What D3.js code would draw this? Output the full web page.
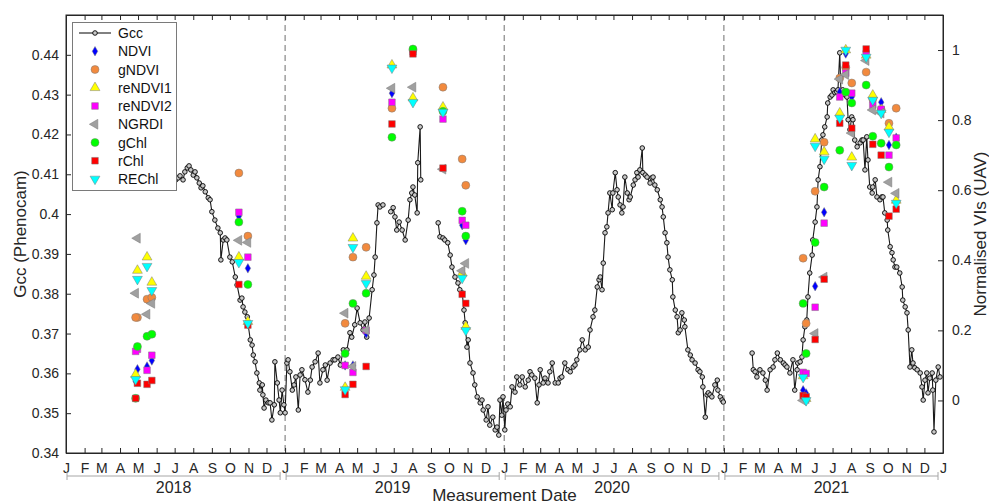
<!DOCTYPE html>
<html><head><meta charset="utf-8">
<script src="https://cdn.jsdelivr.net/npm/d3@7"></script>
<style>body{margin:0;background:#fff}text{font-family:Arial,"Liberation Sans",sans-serif}</style>
</head><body><svg id="chart" width="989" height="504"></svg>
<script>
// Gcc (Phenocam): [days since 2018-01-01, value]; null = gap in record
var gcc = [
[183,.4086],[187,.4091],[190,.4096],[195,.4086],[198,.4106],[202,.4116],[205,.4121],[208,.4111],[212,.4098],[215,.4106],[218,.4091],[222,.4078],[225,.4066],[228,.4071],[232,.4056],[237,.4041],[240,.4036],[243,.4006],[248,.3985],[253,.3965],[257,.3953],[258,.3885],[262,.3935],[265,.3940],[268,.3935],[273,.3892],[277,.3880],[282,.3842],[285,.3822],[290,.3784],[293,.3789],[295,.3767],[298,.3754],[302,.3742],[303,.3727],[307,.3684],[310,.3671],[312,.3646],[315,.3629],[318,.3601],[322,.3576],[323,.3558],[327,.3571],[328,.3546],[330,.3513],[333,.3533],[337,.3526],[340,.3526],[343,.3483],[347,.3521],[348,.3629],[352,.3576],[355,.3533],[357,.3501],[360,.3558],[363,.3521],[365,.3501],
[368,.3626],[370,.3634],[373,.3604],[377,.3558],[380,.3571],[383,.3591],[387,.3508],[390,.3596],[393,.3609],[398,.3584],[403,.3553],[407,.3583],[410,.3616],[415,.3629],[420,.3651],[423,.3576],[428,.3609],[432,.3621],[435,.3583],[440,.3626],[445,.3634],[448,.3634],[453,.3641],[457,.3621],[462,.3659],[468,.3659],[473,.3702],[476,.3691],[481,.3722],[485,.3764],[490,.3727],[495,.3709],[498,.3729],[501,.3691],[505,.3739],[510,.3810],[513,.3847],[515,.3892],[518,.3978],[520,.4023],[523,.4018],[528,.4023],null,
[541,.4006],[545,.4016],[548,.3993],[551,.3960],[555,.3980],[560,.3960],[565,.3935],[570,.3985],[573,.4036],[576,.4053],[578,.4068],[581,.4048],[585,.4003],[586,.4129],[590,.4219],[591,.4086],null,
[620,.3978],[623,.3943],[628,.3940],[631,.3935],[636,.3928],[640,.3897],[643,.3867],[648,.3842],[653,.3827],[656,.3810],[660,.3802],[663,.3759],[665,.3727],[668,.3666],[670,.3684],[673,.3626],[678,.3601],[681,.3571],[685,.3541],[690,.3526],[693,.3533],[695,.3508],[700,.3483],[703,.3516],[706,.3470],[711,.3490],[715,.3458],[718,.3465],[721,.3445],[723,.3533],[726,.3495],[728,.3541],
[731,.3458],[733,.3508],[736,.3523],[740,.3516],[743,.3566],[748,.3553],[751,.3591],[756,.3571],[760,.3591],[765,.3566],[770,.3583],[773,.3604],[776,.3596],[781,.3588],[785,.3526],[788,.3571],[790,.3609],[795,.3576],[798,.3588],[803,.3576],[806,.3604],[810,.3626],[815,.3576],[820,.3576],[823,.3588],[826,.3591],[831,.3626],[836,.3609],[840,.3604],[845,.3616],[848,.3621],[851,.3634],[856,.3659],[860,.3684],[865,.3659],[870,.3666],[873,.3709],[878,.3742],[881,.3759],[885,.3817],[888,.3835],[890,.3842],[893,.3810],[895,.3877],[898,.3953],[901,.3968],[903,.4003],[906,.4053],[910,.4011],[911,.4053],[915,.4104],[918,.4061],[920,.4043],[923,.4023],[926,.4003],[928,.4018],[931,.4093],[935,.4053],[938,.4036],[940,.4043],[945,.4073],[948,.4086],[951,.4104],[953,.4093],[956,.4111],[960,.4166],[961,.4104],[965,.4098],[968,.4093],[973,.4078],[976,.4091],[978,.4093],[981,.4073],[985,.4061],[990,.4036],[993,.4018],[995,.3993],[998,.3953],[1001,.3928],[1003,.3892],[1006,.3860],[1010,.3835],[1011,.3792],[1015,.3759],[1018,.3742],[1020,.3702],[1023,.3709],[1026,.3752],[1030,.3734],[1031,.3717],[1036,.3659],[1040,.3646],[1043,.3634],[1048,.3626],[1053,.3609],[1056,.3604],[1060,.3591],[1061,.3566],[1065,.3490],[1068,.3546],[1070,.3551],[1073,.3546],[1076,.3541],[1081,.3571],[1085,.3583],[1086,.3558],[1090,.3541],[1093,.3533],[1095,.3528],null,
[1143,.3651],[1145,.3609],[1148,.3604],[1151,.3591],[1156,.3609],[1161,.3601],[1165,.3583],[1168,.3558],[1173,.3609],[1178,.3616],[1181,.3634],[1185,.3651],[1190,.3634],[1195,.3626],[1198,.3621],[1201,.3616],[1206,.3601],[1211,.3634],[1214,.3558],[1218,.3609],[1219,.3626],[1223,.3629],[1226,.3641],[1228,.3684],[1231,.3717],[1234,.3734],[1236,.3792],[1239,.3852],[1243,.3897],[1244,.3935],[1248,.3980],[1251,.4018],[1253,.4086],[1256,.4119],[1259,.4186],[1261,.4199],[1264,.4219],[1268,.4244],[1269,.4279],[1273,.4294],[1276,.4299],[1278,.4312],[1281,.4305],[1284,.4307],[1286,.4312],[1289,.4405],[1291,.4307],[1294,.4312],[1298,.4299],[1301,.4294],[1303,.4237],[1306,.4212],[1309,.4244],[1311,.4237],[1314,.4186],[1318,.4169],[1323,.4179],[1326,.4186],[1328,.4186],[1331,.4111],[1334,.4194],[1336,.4136],[1339,.4068],[1343,.4053],[1344,.4068],[1348,.4086],[1351,.4043],[1356,.4036],[1359,.4043],[1361,.4043],[1364,.4003],[1368,.3985],[1369,.3960],[1373,.3918],[1376,.3903],[1378,.3885],[1381,.3867],[1384,.3867],[1389,.3852],[1393,.3817],[1394,.3784],[1398,.3767],[1401,.3752],[1403,.3709],[1406,.3616],[1409,.3659],[1411,.3626],[1414,.3614],[1418,.3609],[1423,.3601],[1426,.3566],[1428,.3533],[1431,.3583],[1434,.3601],[1436,.3551],[1439,.3588],[1443,.3601],[1444,.3558],[1446,.3453],[1449,.3583],[1453,.3616],[1456,.3591]
];

// UAV flights and normalised VIs
var flightDates = ["2018-04-30","2018-04-27","2018-05-16","2018-05-24","2018-10-16","2018-10-31",
  "2019-04-11","2019-04-24","2019-05-16","2019-06-28","2019-08-02","2019-09-21","2019-10-23","2019-10-29",
  "2021-05-13","2021-05-18","2021-06-02","2021-06-17","2021-07-13","2021-07-23","2021-08-02","2021-08-26",
  "2021-09-06","2021-09-20","2021-10-03","2021-10-15"];
var ndvi    = [.089,.055,.097,.114,.526,.377, .100,.100,.191,.877,1.00,.830,.500,.457, .029,.020,.326,.537,.880,.990,.866,.995,.850,.851,.729,.750];
var gndvi   = [.237,.237,.289,.294,.649,.469, .220,.409,.437,.834,1.00,.894,.689,.614, .406,.220,.597,.737,.920,.950,.906,.937,.860,.830,.791,.834];
var rendvi1 = [.371,.074,.409,.337,.409,.225, .037,.463,.354,.957,.863,.837,.363,.211, .070,.005,.746,.709,.820,1.00,.694,.985,.871,.830,.780,.571];
var rendvi2 = [.146,.140,.086,.129,.537,.409, .100,.080,.200,.851,.995,.803,.514,.500, .080,.077,.266,.506,.866,.934,.877,.989,.843,.831,.700,.749];
var ngrdi   = [.463,.306,.246,.277,.457,.451, .249,.097,.200,.891,.894,.660,.370,.391, .000,.005,.191,.352,.917,.930,.763,.970,.829,.820,.623,.591];
var gchl    = [.154,.006,.183,.189,.509,.331, .134,.277,.306,.751,1.003,.825,.540,.469, .277,.134,.451,.609,.714,.880,.849,.900,.754,.734,.666,.729];
var rchl    = [.049,.006,.046,.057,.331,.215, .017,.046,.097,.789,.989,.663,.303,.277, .014,.010,.174,.346,.791,.957,.777,1.003,.731,.700,.526,.546];
var rechl   = [.346,.060,.383,.314,.394,.220, .031,.437,.334,.949,.851,.823,.349,.200, .066,.000,.726,.689,.806,1.00,.671,.980,.857,.820,.766,.563];

var monthLetters = ["J","F","M","A","M","J","J","A","S","O","N","D"];
var years = [2018, 2019, 2020, 2021];
var leftTicks = [0.34,0.35,0.36,0.37,0.38,0.39,0.4,0.41,0.42,0.43,0.44];
var rightTicks = [0, 0.2, 0.4, 0.6, 0.8, 1];

var series = [
  {name: "NDVI",    values: ndvi,    shape: d3.symbolDiamond,  size: 26, rot: 0,   fill: "#0000ff"},
  {name: "gNDVI",   values: gndvi,   shape: d3.symbolCircle,   size: 50, rot: 0,   fill: "#f28a3e"},
  {name: "reNDVI1", values: rendvi1, shape: d3.symbolTriangle, size: 42, rot: 0,   fill: "#ffff00"},
  {name: "reNDVI2", values: rendvi2, shape: d3.symbolSquare,   size: 44, rot: 0,   fill: "#ff00ff"},
  {name: "NGRDI",   values: ngrdi,   shape: d3.symbolTriangle, size: 42, rot: -90, fill: "#a0a0a0"},
  {name: "gChl",    values: gchl,    shape: d3.symbolCircle,   size: 50, rot: 0,   fill: "#00ff00"},
  {name: "rChl",    values: rchl,    shape: d3.symbolSquare,   size: 44, rot: 0,   fill: "#ff0000"},
  {name: "REChl",   values: rechl,   shape: d3.symbolTriangle, size: 42, rot: 180, fill: "#00ffff"}
];

var svg = d3.select("#chart");
var L = 66, R = 943, T = 15, B = 453;
var t0 = new Date(2018, 0, 1);
var parse = d3.timeParse("%Y-%m-%d");

var x = d3.scaleTime().domain([t0, new Date(2022, 0, 1)]).range([L, R]);
var yL = d3.scaleLinear().domain([0.34, 0.45]).range([B, T]);
var yR = d3.scaleLinear().domain([-0.15, 1.1]).range([B, T]);
var dayDate = function(d) { return d3.timeDay.offset(t0, d); };

// year separators
svg.append("g").selectAll("line").data(years.slice(1)).join("line")
  .attr("x1", d => x(new Date(d, 0, 1))).attr("x2", d => x(new Date(d, 0, 1)))
  .attr("y1", T).attr("y2", B)
  .attr("stroke", "#6e6e6e").attr("stroke-width", 1).attr("stroke-dasharray", "6,4");

// axes
var fmt = d => String(+d.toFixed(2));
var gL = svg.append("g").attr("transform", "translate(" + L + ",0)")
  .call(d3.axisLeft(yL).tickValues(leftTicks).tickFormat(fmt).tickSize(-5).tickSizeOuter(0).tickPadding(7));
var gR = svg.append("g").attr("transform", "translate(" + R + ",0)")
  .call(d3.axisRight(yR).tickValues(rightTicks).tickFormat(fmt).tickSize(-5).tickSizeOuter(0).tickPadding(9));
var gB = svg.append("g").attr("transform", "translate(0," + B + ")")
  .call(d3.axisBottom(x).ticks(d3.timeMonth.every(1)).tickFormat(d => monthLetters[d.getMonth()])
    .tickSize(-5).tickSizeOuter(0).tickPadding(10));
var gT = svg.append("g").attr("transform", "translate(0," + T + ")")
  .call(d3.axisTop(x).ticks(d3.timeMonth.every(1)).tickFormat("").tickSize(-5).tickSizeOuter(0));
[gL, gR, gB, gT].forEach(function(g) {
  g.selectAll("path.domain").attr("stroke", "#262626");
  g.selectAll(".tick line").attr("stroke", "#262626");
  g.selectAll("text").attr("fill", "#262626").style("font-size", "14px");
});

// year brackets under the month letters
var yb = svg.append("g");
years.forEach(function(yr) {
  var a = x(new Date(yr, 0, 1)) + 1, b = x(new Date(yr + 1, 0, 1)) - 5;
  yb.append("path").attr("d", "M" + a + ",472V480M" + a + ",476H" + b + "M" + b + ",472V480")
    .attr("stroke", "#a6a6a6").attr("fill", "none");
  yb.append("text").attr("x", (a + b) / 2).attr("y", 493).attr("text-anchor", "middle")
    .style("font-size", "16px").attr("fill", "#262626").text(yr);
});

svg.append("text").attr("x", (L + R) / 2).attr("y", 501).attr("text-anchor", "middle")
  .style("font-size", "17px").attr("fill", "#262626").text("Measurement Date");
svg.append("text").attr("transform", "translate(26," + ((T + B) / 2) + ") rotate(-90)")
  .attr("text-anchor", "middle").style("font-size", "17px").attr("fill", "#262626").text("Gcc (Phenocam)");
svg.append("text").attr("transform", "translate(986," + ((T + B) / 2) + ") rotate(-90)")
  .attr("text-anchor", "middle").style("font-size", "17px").attr("fill", "#262626").text("Normalised VIs (UAV)");

// Gcc line with open markers
var line = d3.line().defined(d => d !== null)
  .x(d => x(dayDate(d[0]))).y(d => yL(d[1]));
svg.append("path").datum(gcc).attr("d", line)
  .attr("fill", "none").attr("stroke", "#1a1a1a").attr("stroke-width", 1.1);
svg.append("g").selectAll("circle").data(gcc.filter(d => d !== null)).join("circle")
  .attr("cx", d => x(dayDate(d[0]))).attr("cy", d => yL(d[1])).attr("r", 2.3)
  .attr("fill", "#c8c8c8").attr("stroke", "#000").attr("stroke-width", 0.9);

// VI markers, legend order = drawing order
series.forEach(function(s) {
  var sym = d3.symbol().type(s.shape).size(s.size);
  svg.append("g").selectAll("path").data(flightDates.map((d, i) => [parse(d), s.values[i]])).join("path")
    .attr("d", sym)
    .attr("transform", d => "translate(" + x(d[0]) + "," + yR(d[1]) + ") rotate(" + s.rot + ")")
    .attr("fill", s.fill).attr("stroke", "#7a7a7a").attr("stroke-width", 0.5);
});

// box
svg.append("rect").attr("x", L).attr("y", T).attr("width", R - L).attr("height", B - T)
  .attr("fill", "none").attr("stroke", "#262626").attr("stroke-width", 1);

// legend
var lg = svg.append("g");
lg.append("rect").attr("x", 72.5).attr("y", 22.5).attr("width", 104).attr("height", 168)
  .attr("fill", "#fff").attr("stroke", "#7a7a7a");
var ly = d3.scaleLinear().domain([0, 8]).range([33, 179]);
lg.append("line").attr("x1", 79).attr("x2", 111).attr("y1", ly(0)).attr("y2", ly(0))
  .attr("stroke", "#1a1a1a").attr("stroke-width", 1.1);
lg.append("circle").attr("cx", 95).attr("cy", ly(0)).attr("r", 2.3)
  .attr("fill", "#c8c8c8").attr("stroke", "#000").attr("stroke-width", 0.9);
lg.append("text").attr("x", 118).attr("y", ly(0) + 5).style("font-size", "14px").attr("fill", "#111").text("Gcc");
series.forEach(function(s, i) {
  var yy = ly(i + 1);
  lg.append("path").attr("d", d3.symbol().type(s.shape).size(s.size))
    .attr("transform", "translate(95," + yy + ") rotate(" + s.rot + ")")
    .attr("fill", s.fill).attr("stroke", "#7a7a7a").attr("stroke-width", 0.5);
  lg.append("text").attr("x", 118).attr("y", yy + 5).style("font-size", "14px").attr("fill", "#111").text(s.name);
});
</script></body></html>
